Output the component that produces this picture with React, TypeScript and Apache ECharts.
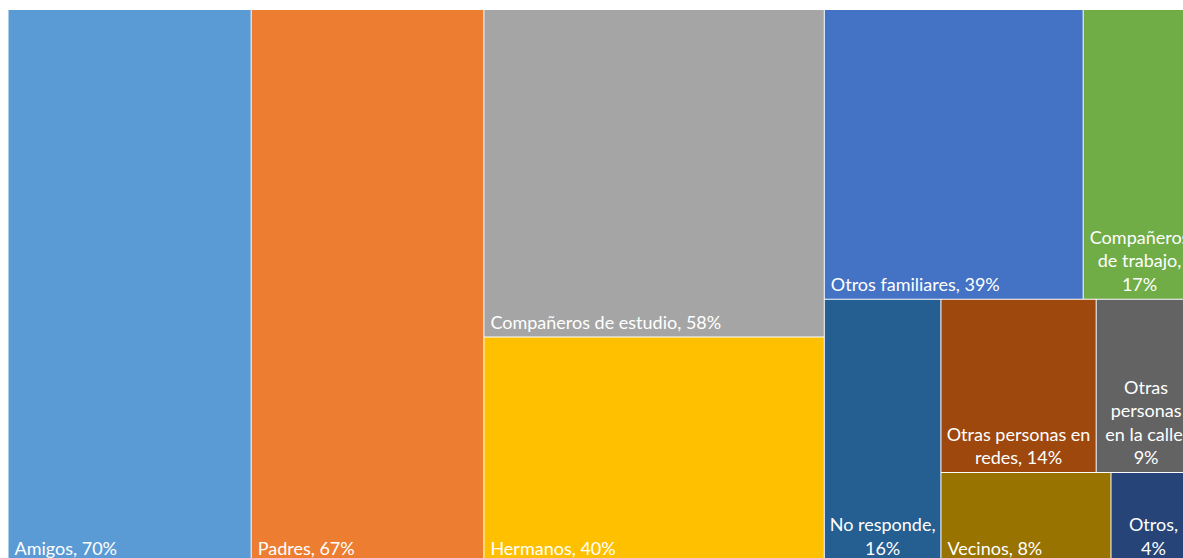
import React, { useEffect, useRef } from "react";
import * as echarts from "echarts";

// Categories and values (percent of respondents)
const categories = [
  "Amigos",
  "Padres",
  "Compañeros de estudio",
  "Hermanos",
  "Otros familiares",
  "Compañeros de trabajo",
  "No responde",
  "Otras personas en redes",
  "Otras personas en la calle",
  "Vecinos",
  "Otros",
];
const values = [70, 67, 58, 40, 39, 17, 16, 14, 9, 8, 4];

// Office palette
const palette = [
  "#5B9BD5",
  "#ED7D31",
  "#A5A5A5",
  "#FFC000",
  "#4472C4",
  "#70AD47",
  "#255E91",
  "#9E480E",
  "#636363",
  "#997300",
  "#264478",
];

// Nesting of category indices used to guide the treemap tiling
const tiling: any[] = [0, 1, [2, 3], [[4, 5], [6, [[7, 8], [9, 10]]]]];

// Labels that wrap and are centred in their cells: words per line
const wrapWords: Record<string, number[]> = {
  "Compañeros de trabajo": [1, 2, 1],
  "No responde": [2, 1],
  "Otras personas en redes": [3, 2],
  "Otras personas en la calle": [1, 1, 3, 1],
  Otros: [1, 1],
};

const FONT = "Lato, 'Open Sans', sans-serif";

function wrapLabel(text: string, counts?: number[]) {
  if (!counts) return text;
  const words = text.split(" ");
  const lines: string[] = [];
  let k = 0;
  counts.forEach((n) => {
    lines.push(words.slice(k, k + n).join(" "));
    k += n;
  });
  if (k < words.length) lines.push(words.slice(k).join(" "));
  return lines.join("\n");
}

function buildNode(spec: any, key: string): any {
  if (typeof spec === "number") {
    const name = categories[spec];
    const counts = wrapWords[name];
    const isCentred = !!counts;
    return {
      name,
      value: values[spec],
      itemStyle: {
        color: palette[spec],
        borderColor: "rgba(255,255,255,0.85)",
        borderWidth: 0.5,
        gapWidth: 0,
      },
      label: {
        show: true,
        position: isCentred ? "insideBottom" : "insideBottomLeft",
        align: isCentred ? "center" : "left",
        verticalAlign: "bottom",
        distance: 0,
        padding: [0, 6, 3, 6],
        overflow: "none",
        color: "#ffffff",
        fontFamily: FONT,
        fontSize: 18,
        lineHeight: 23.5,
        formatter: (p: any) => wrapLabel(`${p.name}, ${p.value}%`, counts),
      },
    };
  }
  const children = spec.map((s: any, i: number) => buildNode(s, key + "-" + i));
  const sum = children.reduce((a: number, c: any) => a + c.value, 0);
  return {
    name: "grupo" + key,
    value: sum,
    itemStyle: { borderWidth: 0, gapWidth: 0, borderColor: "rgba(0,0,0,0)" },
    label: { show: false },
    upperLabel: { show: false },
    children,
  };
}

export default function App() {
  const ref = useRef<HTMLDivElement>(null);
  useEffect(() => {
    if (!ref.current) return;
    const chart = echarts.init(ref.current, null, { renderer: "svg" });
    const data = tiling.map((s, i) => buildNode(s, String(i)));
    chart.setOption({
      animation: false,
      backgroundColor: "#ffffff",
      series: [
        {
          type: "treemap",
          left: 8,
          top: 9.5,
          width: 1188,
          height: 553.5,
          roam: false,
          nodeClick: false,
          sort: false,
          squareRatio: 0.8,
          visibleMin: 0,
          breadcrumb: { show: false },
          itemStyle: { borderWidth: 0, gapWidth: 0, borderColor: "rgba(0,0,0,0)" },
          emphasis: { disabled: true },
          levels: [{ itemStyle: { borderWidth: 0, gapWidth: 0 } }],
          data,
        },
      ],
    });
    return () => chart.dispose();
  }, []);
  return (
    <div
      ref={ref}
      style={{ position: "fixed", left: 0, top: 0, width: 1183, height: 558 }}
    />
  );
}
